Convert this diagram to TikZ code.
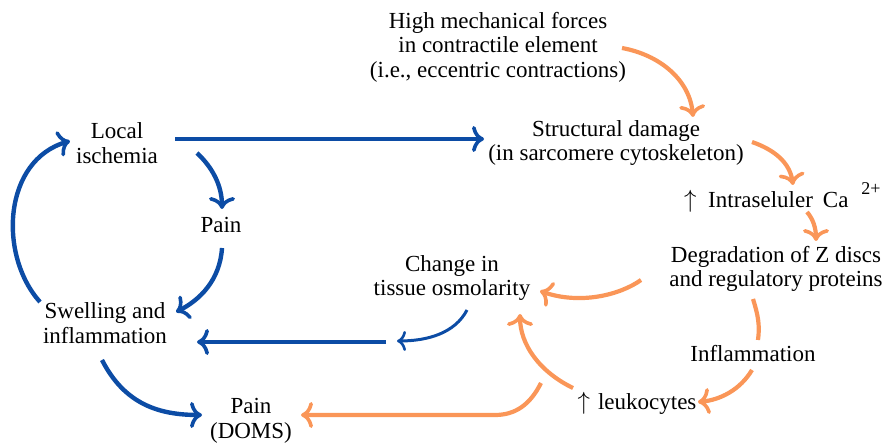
\documentclass[tikz,border=0pt]{standalone}
\usepackage{fontspec}
\setmainfont{Liberation Serif}
\usetikzlibrary{arrows.meta}
\definecolor{myblue}{RGB}{12,76,165}
\definecolor{myorange}{RGB}{250,150,88}
\tikzset{
  lbl/.style={align=center, font=\fontsize{23}{24.5}\selectfont, inner sep=0pt},
  barrow/.style={draw=myblue, line width=4.4pt, -{Computer Modern Rightarrow[length=12pt,width=26pt,line width=3.6pt]}},
  thinb/.style={draw=myblue, line width=3pt, -{Computer Modern Rightarrow[length=9pt,width=20pt,line width=2.6pt]}},
  oarrow/.style={draw=myorange, line width=4.2pt, -{Computer Modern Rightarrow[length=12pt,width=26pt,line width=3.6pt]}},
  oline/.style={draw=myorange, line width=4.2pt},
}
\begin{document}
\begin{tikzpicture}[x=1pt,y=-1pt]
\useasboundingbox (0,0) rectangle (887,443);
% nodes
\node[lbl] (high) at (498,47) {High mechanical forces\\in contractile element\\(i.e., eccentric contractions)};
\node[lbl] (loc) at (117,143) {Local\\ischemia};
\node[lbl] (struc) at (616,143) {Structural damage\\(in sarcomere cytoskeleton)};
\node[lbl, anchor=base west] (ca) at (684,208) {\makebox[24pt][l]{$\uparrow$}Intraseluler\hspace{10pt}Ca\hspace{13pt}\raisebox{13pt}{\fontsize{18}{18}\selectfont 2+}};
\node[lbl] (pain) at (221,225) {Pain};
\node[lbl] (deg) at (776,269) {Degradation of Z discs\\and regulatory proteins};
\node[lbl] (osm) at (452,278) {Change in\\tissue osmolarity};
\node[lbl] (swell) at (105,323) {Swelling and\\inflammation};
\node[lbl] (infl) at (753,354) {Inflammation};
\node[lbl] (leuk) at (637,403) {$\uparrow$\hspace{8pt}leukocytes};
\node[lbl] (doms) at (251,421) {Pain\\(DOMS)};
% connector end points
\coordinate (b1s) at (175,139); \coordinate (b1e) at (484,139);
\coordinate (b2s) at (197,153); \coordinate (b2e) at (222,209);
\coordinate (b3s) at (222,248); \coordinate (b3e) at (176,312);
\coordinate (b4s) at (40,302);  \coordinate (b4e) at (70,141);
\coordinate (b5s) at (102,360); \coordinate (b5e) at (202,415);
\coordinate (b6s) at (467,310); \coordinate (b6e) at (397,341);
\coordinate (b7s) at (386,342); \coordinate (b7e) at (197,342);
\coordinate (o1s) at (622,48);  \coordinate (o1e) at (693,117);
\coordinate (o2s) at (752,142); \coordinate (o2e) at (793,185);
\coordinate (o3s) at (807,212); \coordinate (o3e) at (816,241);
\coordinate (o4s) at (641,280); \coordinate (o4e) at (540,291);
\coordinate (o5s) at (753,299); \coordinate (o5e) at (758,340);
\coordinate (o6s) at (752,370); \coordinate (o6e) at (698,402);
\coordinate (o7s) at (573,388); \coordinate (o7e) at (520,314);
\coordinate (o8s) at (541,383); \coordinate (o8e) at (301,415);
% blue connectors
\draw[barrow] (b1s) -- (b1e);
\draw[barrow] (b2s) .. controls (212,167) and (222,185) .. (b2e);
\draw[barrow] (b3s) .. controls (220,280) and (200,300) .. (b3e);
\draw[barrow] (b4s) .. controls (-2,255) and (3,160) .. (b4e);
\draw[barrow] (b5s) .. controls (125,405) and (160,415) .. (b5e);
\draw[thinb] (b6s) .. controls (455,333) and (428,341) .. (b6e);
\draw[barrow] (b7s) -- (b7e);
% orange connectors
\draw[oarrow] (o1s) .. controls (660,55) and (690,80) .. (o1e);
\draw[oarrow] (o2s) .. controls (775,150) and (790,163) .. (o2e);
\draw[oarrow] (o3s) .. controls (813,219) and (816,228) .. (o3e);
\draw[oarrow] (o4s) .. controls (620,295) and (580,305) .. (o4e);
\draw[oline] (o5s) .. controls (758,315) and (760,325) .. (o5e);
\draw[oarrow] (o6s) .. controls (740,390) and (720,400) .. (o6e);
\draw[oarrow] (o7s) .. controls (540,372) and (520,345) .. (o7e);
\draw[oarrow] (o8s) .. controls (530,405) and (515,415) .. (495,415) -- (o8e);
\end{tikzpicture}
\end{document}
